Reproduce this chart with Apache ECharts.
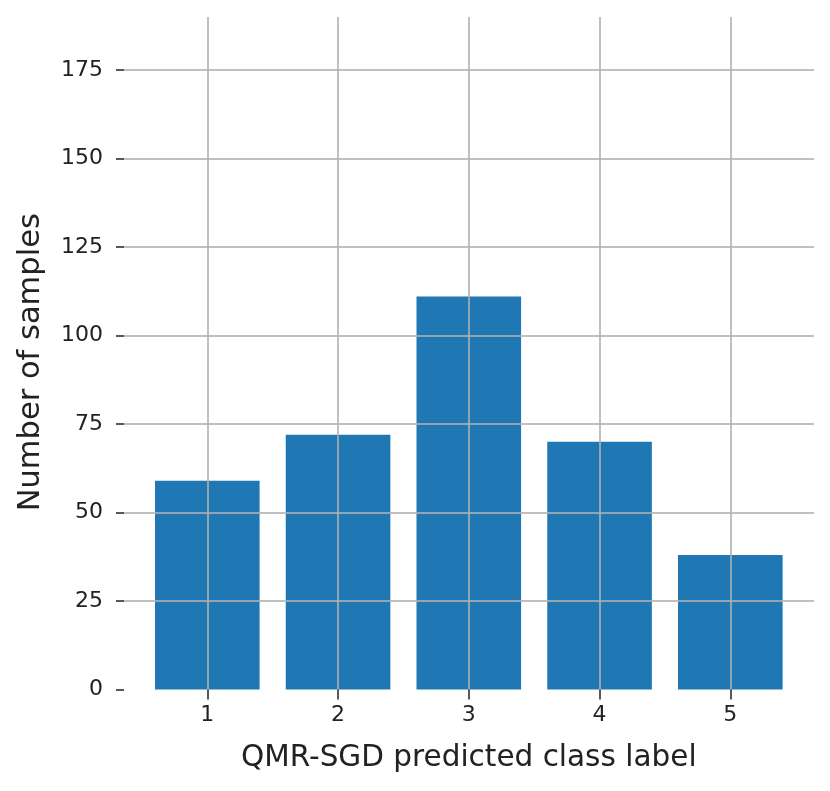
<!DOCTYPE html>
<html>
<head>
<meta charset="utf-8">
<script src="https://cdn.jsdelivr.net/npm/echarts@6/dist/echarts.min.js"></script>
<style>
html,body{margin:0;padding:0;background:#fff;}
#c{width:830px;height:791px;}
</style>
</head>
<body>
<div id="c"></div>
<script>
const categories = ['1', '2', '3', '4', '5'];
const counts = [59, 72, 111, 70, 38];
const yTicks = [0, 25, 50, 75, 100, 125, 150, 175];
const yTop = 190;

const FONT = 'DejaVu Sans';
const gridColor = 'rgba(176,176,176,0.8)';
const chart = echarts.init(document.getElementById('c'), null, {renderer: 'canvas'});
chart.setOption({
  backgroundColor: '#ffffff',
  animation: false,
  grid: [
    {left: 124, right: 16, top: 70, bottom: 101.5},
    {left: 207.3, right: 99.7, top: 17, bottom: 101.5},
    {left: 124, right: 16, top: 35, bottom: 101.5}
  ],
  xAxis: [
    {gridIndex: 0, type: 'value', show: false, min: 0, max: 1},
    {
      gridIndex: 1, type: 'category', data: categories, boundaryGap: false, z: 5,
      axisLine: {show: false},
      axisTick: {show: true, length: 10, lineStyle: {color: '#222', width: 1.5}},
      axisLabel: {fontFamily: FONT, fontSize: 22, color: '#222', margin: 15},
      splitLine: {show: true, lineStyle: {color: gridColor, width: 2}},
      name: 'QMR-SGD predicted class label', nameLocation: 'middle', nameGap: 54,
      nameTextStyle: {fontFamily: FONT, fontSize: 29.5, color: '#222'}
    },
    {gridIndex: 2, type: 'value', show: false, min: 0, max: 1}
  ],
  yAxis: [
    {
      gridIndex: 0, type: 'value', min: yTicks[0], max: yTicks[yTicks.length - 1], interval: 25, z: 5,
      axisLine: {show: false},
      axisTick: {show: true, length: 8, lineStyle: {color: '#222', width: 1.5}},
      axisLabel: {fontFamily: FONT, fontSize: 22, color: '#222', margin: 21},
      splitLine: {show: true, showMinLine: false, lineStyle: {color: gridColor, width: 2}}
    },
    {gridIndex: 1, type: 'value', show: false, min: 0, max: yTop, splitLine: {show: false}},
    {
      gridIndex: 2, type: 'value', min: 0, max: 1,
      axisLine: {show: false}, axisTick: {show: false}, axisLabel: {show: false}, splitLine: {show: false},
      name: 'Number of samples', nameLocation: 'middle', nameGap: 77,
      nameTextStyle: {fontFamily: FONT, fontSize: 30.5, color: '#222'}
    }
  ],
  series: [{
    type: 'bar', xAxisIndex: 1, yAxisIndex: 1, data: counts, barWidth: '80%',
    clip: false, z: 2,
    itemStyle: {color: '#1f77b4'}
  }]
});
</script>
</body>
</html>
